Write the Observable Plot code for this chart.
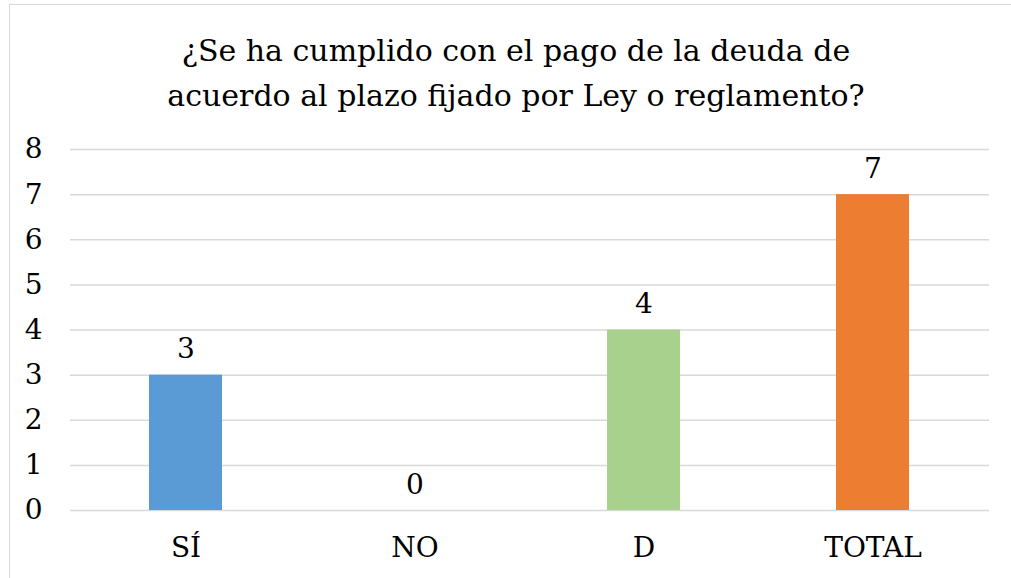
<!DOCTYPE html>
<html>
<head>
<meta charset="utf-8">
<script src="https://cdn.jsdelivr.net/npm/d3@7"></script>
<script src="https://cdn.jsdelivr.net/npm/@observablehq/plot@0.6"></script>
</head>
<body style="margin:0;padding:0;background:#fff;width:1011px;height:578px;position:relative;overflow:hidden;font-family:'DejaVu Serif'">
<div id="frame" style="position:absolute;left:9px;top:4px;width:1010px;height:600px;border:1.5px solid #d9d9d9;box-sizing:border-box"></div>
<div id="title" style="position:absolute;left:0;top:28px;width:1032px;text-align:center;font-family:'DejaVu Serif';font-size:30px;line-height:45px;color:#000">¿Se ha cumplido con el pago de la deuda de<br>acuerdo al plazo fijado por Ley o reglamento?</div>
<div id="chart" style="position:absolute;left:0;top:0"></div>
<script>
const categories = ["SÍ", "NO", "D", "TOTAL"];
const values = [3, 0, 4, 7];
const colors = ["#5B9BD5", "#5B9BD5", "#A9D18E", "#ED7D31"];
const yTicks = [0, 1, 2, 3, 4, 5, 6, 7, 8];

const data = categories.map((c, i) => ({cat: c, value: values[i], color: colors[i]}));
const FONT = "DejaVu Serif";

const plot = Plot.plot({
  width: 1011,
  height: 578,
  marginLeft: 70,
  marginRight: 22,
  marginTop: 149,
  marginBottom: 68,
  style: {fontFamily: FONT, fontSize: "28px", color: "#000", background: "transparent"},
  x: {domain: categories, paddingInner: 0.68, paddingOuter: 0.34, label: null},
  y: {domain: [0, 8], label: null},
  marks: [
    Plot.gridY(yTicks, {stroke: "#d9d9d9", strokeOpacity: 1, strokeWidth: 1.5}),
    Plot.barY(data, {x: "cat", y: "value", fill: "color"}),
    Plot.text(data, {x: "cat", y: "value", text: d => String(d.value), lineAnchor: "bottom", dy: -17, fontSize: 28, fontFamily: FONT, fill: "#000"}),
    Plot.axisY(yTicks, {tickSize: 0, tickPadding: 28, fontSize: 28, fontFamily: FONT, label: null, tickFormat: d => String(d)}),
    Plot.axisX({tickSize: 0, tickPadding: 27, fontSize: 28, fontFamily: FONT, label: null})
  ]
});
document.getElementById("chart").appendChild(plot);
</script>
</body>
</html>
